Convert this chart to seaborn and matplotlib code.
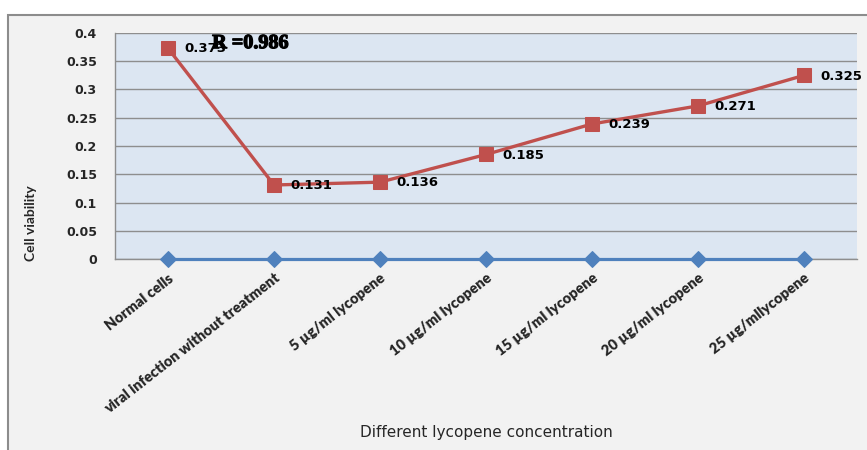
import matplotlib
matplotlib.use("Agg")
import matplotlib.pyplot as plt
import matplotlib.ticker as mticker
import matplotlib.patheffects as pe
from matplotlib.patches import Rectangle
from matplotlib.font_manager import FontProperties
import pandas as pd
import seaborn as sns

# ----------------------------
# Data
# ----------------------------
categories = [
    "Normal cells",
    "viral infection without treatment",
    "5 µg/ml lycopene",
    "10 µg/ml lycopene",
    "15 µg/ml lycopene",
    "20 µg/ml lycopene",
    "25 µg/mllycopene",
]
viability = [0.373, 0.131, 0.136, 0.185, 0.239, 0.271, 0.325]
baseline = [0, 0, 0, 0, 0, 0, 0]
y_ticks = [0, 0.05, 0.1, 0.15, 0.2, 0.25, 0.3, 0.35, 0.4]
r_text = "R =0.986"

df = pd.DataFrame({"Group": categories, "Viability": viability, "Base": baseline})

# ----------------------------
# Style
# ----------------------------
sns.set_style("white")
plt.rcParams["font.family"] = ["DejaVu Sans"]

W, H = 867, 450
fig = plt.figure(figsize=(W / 100, H / 100), dpi=100)
fig.patch.set_facecolor("white")

# outer chart frame (Excel-like)
fig.patches.append(Rectangle((8 / W, -0.1), 1.2, 1.1 - 15 / H, transform=fig.transFigure,
                             facecolor="#F2F2F2", edgecolor="#8C8C8C", linewidth=1.5, zorder=-10))

ax = fig.add_axes([115 / W, 1 - 259 / H, (857 - 115) / W, (259 - 33) / H])
ax.set_facecolor("#DCE6F2")

# ----------------------------
# Plot
# ----------------------------
sns.lineplot(data=df, x="Group", y="Base", sort=False, color="#4F81BD", linewidth=2.3,
             marker="D", markersize=8, markeredgecolor="#4F81BD", ax=ax, zorder=4, clip_on=False)
sns.lineplot(data=df, x="Group", y="Viability", sort=False, color="#C0504D", linewidth=2.4,
             marker="s", markersize=10.5, markeredgecolor="#C0504D", ax=ax, zorder=5, clip_on=False)

for i, v in enumerate(viability):
    ax.annotate(f"{v:.3f}", (i, v), xytext=(12, -0.5), textcoords="offset points",
                ha="left", va="center", fontsize=9.5, fontweight="bold", color="black", zorder=6)

# serif bold note (stroke thickens it like Times bold)
r_font = FontProperties(family=["Liberation Serif", "DejaVu Serif"], weight="bold", size=14.5)
ax.text(0.131, 0.955, r_text, transform=ax.transAxes, ha="left", va="center",
        fontproperties=r_font, color="black", zorder=7,
        path_effects=[pe.withStroke(linewidth=0.9, foreground="black")])

# ----------------------------
# Axes
# ----------------------------
ax.set_xlim(-0.5, len(categories) - 0.5)
ax.set_ylim(0, 0.4)
ax.set_yticks(y_ticks)
ax.yaxis.set_major_formatter(mticker.FuncFormatter(lambda v, p: f"{v:g}"))
ax.grid(True, axis="y", color="#8E8E8E", linewidth=1)
ax.grid(False, axis="x")
ax.set_axisbelow(True)

for side in ["top", "right"]:
    ax.spines[side].set_visible(False)
for side in ["left", "bottom"]:
    ax.spines[side].set_color("#8E8E8E")
    ax.spines[side].set_linewidth(1)

ax.tick_params(axis="y", length=5, color="#8E8E8E", labelsize=9, pad=8)
for lbl in ax.get_yticklabels():
    lbl.set_fontweight("bold")

tick_font = FontProperties(family="Lato", weight="heavy", size=10.5)
ax.set_xticks(range(len(categories)))
ax.set_xticklabels(categories, rotation=38, ha="right", va="top", rotation_mode="anchor",
                   fontproperties=tick_font)
ax.tick_params(axis="x", which="major", length=0, pad=9)
ax.set_xticks([i - 0.5 for i in range(len(categories) + 1)], minor=True)
ax.tick_params(axis="x", which="minor", length=5, color="#8E8E8E")

ax.set_xlabel("")
ax.set_ylabel("")
fig.text(31 / W, 1 - 223 / H, "Cell viability", rotation=90, ha="center", va="center",
         fontproperties=FontProperties(family="Lato", weight="bold", size=10))
fig.text(486 / W, 1 - 432 / H, "Different lycopene concentration", ha="center", va="center",
         fontsize=11)

fig.savefig("out.png", dpi=100, facecolor=fig.get_facecolor())
